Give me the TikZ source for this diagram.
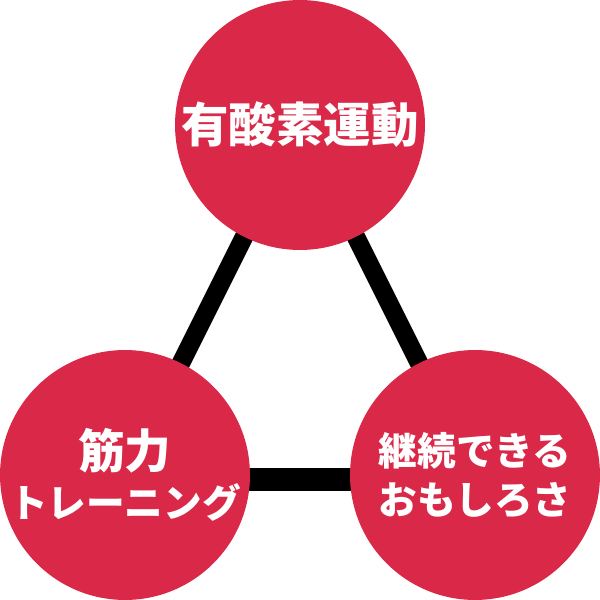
\documentclass[tikz,border=0pt]{standalone}
\usepackage{fontspec}
\setmainfont{Noto Sans CJK JP}
\usetikzlibrary{backgrounds}
\definecolor{CircleClr}{RGB}{218,41,72}

\begin{document}
\begin{tikzpicture}[x=0.02cm,y=0.02cm,
  topic/.style={circle,fill=CircleClr,text=white,minimum size=5cm,inner sep=0pt,align=center,font=\bfseries\fontsize{22}{28}\selectfont},
  link/.style={line width=10.5pt}]
\useasboundingbox (0,0) rectangle (600,600);

\node[topic,font=\bfseries\fontsize{27}{30}\selectfont] (aero) at (300,475) {有酸素運動};
\node[topic] (kin) at (125,125) {{\fontsize{26.5}{28}\selectfont 筋力}\\トレーニング};
\node[topic] (fun) at (475,125) {継続できる\\おもしろさ};

\begin{scope}[on background layer]
\draw[link] (aero.center) -- (kin.center);
\draw[link] (aero.center) -- (fun.center);
\draw[link,line width=13.6pt] ([yshift=-0.09cm]kin.center) -- ([yshift=-0.09cm]fun.center);
\end{scope}
\end{tikzpicture}
\end{document}
